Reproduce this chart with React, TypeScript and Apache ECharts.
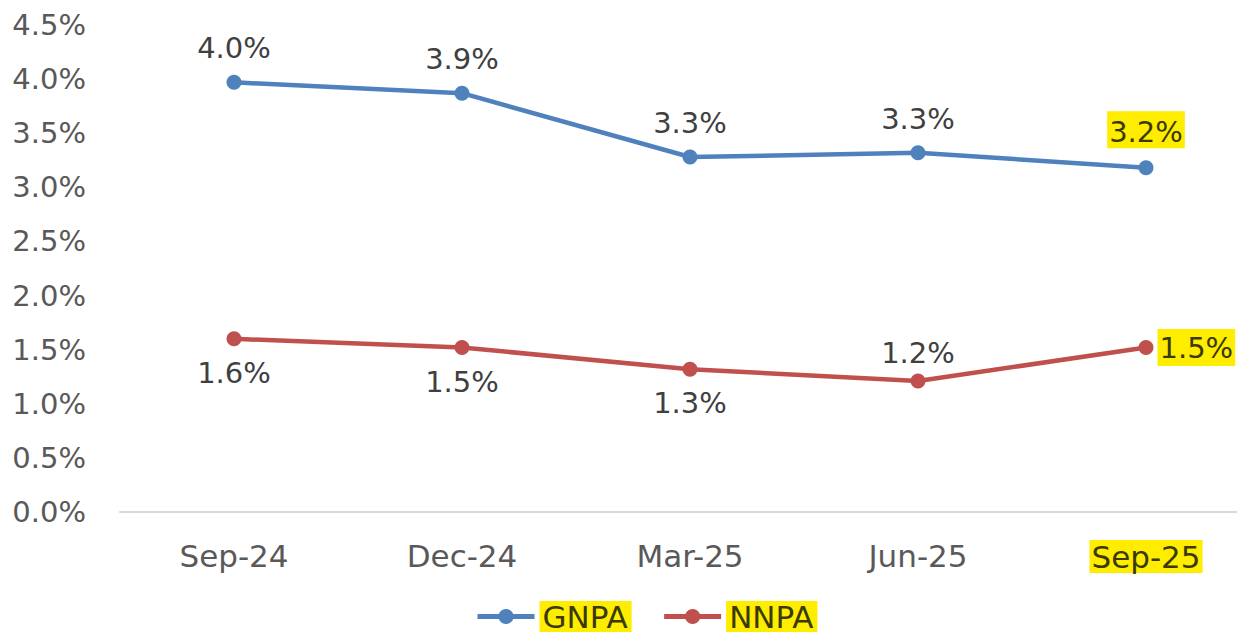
import React, { useEffect, useRef } from "react";
import * as echarts from "echarts";

const categories = ["Sep-24", "Dec-24", "Mar-25", "Jun-25", "Sep-25"];
const gnpa = [3.97, 3.87, 3.28, 3.32, 3.18];
const nnpa = [1.6, 1.52, 1.32, 1.21, 1.52];
const yTicks = [0, 0.5, 1, 1.5, 2, 2.5, 3, 3.5, 4, 4.5];

const FONT = "'DejaVu Sans', sans-serif";
const YELLOW = "#FFED00";
const BLUE = "#4F81BD";
const RED = "#C0504D";

export default function App() {
  const ref = useRef<HTMLDivElement>(null);
  useEffect(() => {
    if (!ref.current) return;
    const chart = echarts.init(ref.current, null, { renderer: "svg" });
    const last = categories.length - 1;
    const fmt = (v: number) => v.toFixed(1) + "%";
    const hlLabel = {
      backgroundColor: YELLOW,
      padding: [6, 2, 2, 2],
      color: "#3a3a00",
    };
    const gData = gnpa.map((v, i) => ({
      value: v,
      label: i === last ? { ...hlLabel } : {},
    }));
    const nData = nnpa.map((v, i) => {
      if (i === last) return { value: v, label: { position: "right", distance: 4, ...hlLabel } };
      if (i === 3) return { value: v, label: { position: "top", distance: 6 } };
      return { value: v, label: { position: "bottom", distance: 12 } };
    });
    chart.setOption({
      animation: false,
      textStyle: { fontFamily: FONT },
      grid: { left: 120, top: 25, width: 1140, height: 487, outerBoundsMode: "none", containLabel: false },
      xAxis: {
        type: "category",
        data: categories,
        axisLine: { lineStyle: { color: "#d9d9d9", width: 2 } },
        axisTick: { show: false },
        axisLabel: {
          interval: 0,
          hideOverlap: false,
          margin: 28,
          fontSize: 31,
          color: "#595959",
          fontFamily: FONT,
          formatter: (v: string, i: number) => (i === last ? "{hl|" + v + "}" : v),
          rich: {
            hl: {
              backgroundColor: YELLOW,
              fontSize: 31,
              color: "#3a3a00",
              fontFamily: FONT,
              padding: [1, 2, 1, 2],
            },
          },
        },
      },
      yAxis: {
        type: "value",
        min: 0,
        max: 4.5,
        interval: 0.5,
        splitLine: { show: false },
        axisLine: { show: false },
        axisTick: { show: false },
        axisLabel: {
          margin: 34,
          fontSize: 29,
          color: "#595959",
          fontFamily: FONT,
          formatter: (v: number) => (yTicks.includes(v) ? v.toFixed(1) + "%" : ""),
        },
      },
      legend: {
        top: 596,
        left: 470,
        selectedMode: false,
        itemWidth: 57,
        itemHeight: 19,
        itemGap: 30,
        lineStyle: { width: 5 },
        textStyle: {
          fontSize: 31,
          fontFamily: FONT,
          color: "#3a3a00",
          backgroundColor: YELLOW,
          padding: [0, 4, 0, 3],
        },
        data: ["GNPA", "NNPA"],
      },
      series: [
        {
          name: "GNPA",
          type: "line",
          data: gData,
          symbol: "circle",
          symbolSize: 15,
          lineStyle: { color: BLUE, width: 4.5 },
          itemStyle: { color: BLUE },
          label: {
            show: true,
            position: "top",
            distance: 12,
            fontSize: 29,
            fontFamily: FONT,
            color: "#404040",
            formatter: (p: any) => fmt(p.value),
          },
        },
        {
          name: "NNPA",
          type: "line",
          data: nData,
          symbol: "circle",
          symbolSize: 15,
          lineStyle: { color: RED, width: 4.5 },
          itemStyle: { color: RED },
          label: {
            show: true,
            fontSize: 29,
            fontFamily: FONT,
            color: "#404040",
            formatter: (p: any) => fmt(p.value),
          },
        },
      ],
    });
    return () => chart.dispose();
  }, []);
  return (
    <div
      ref={ref}
      style={{ position: "absolute", left: 0, top: 0, width: 1237, height: 635, background: "#fff" }}
    />
  );
}
